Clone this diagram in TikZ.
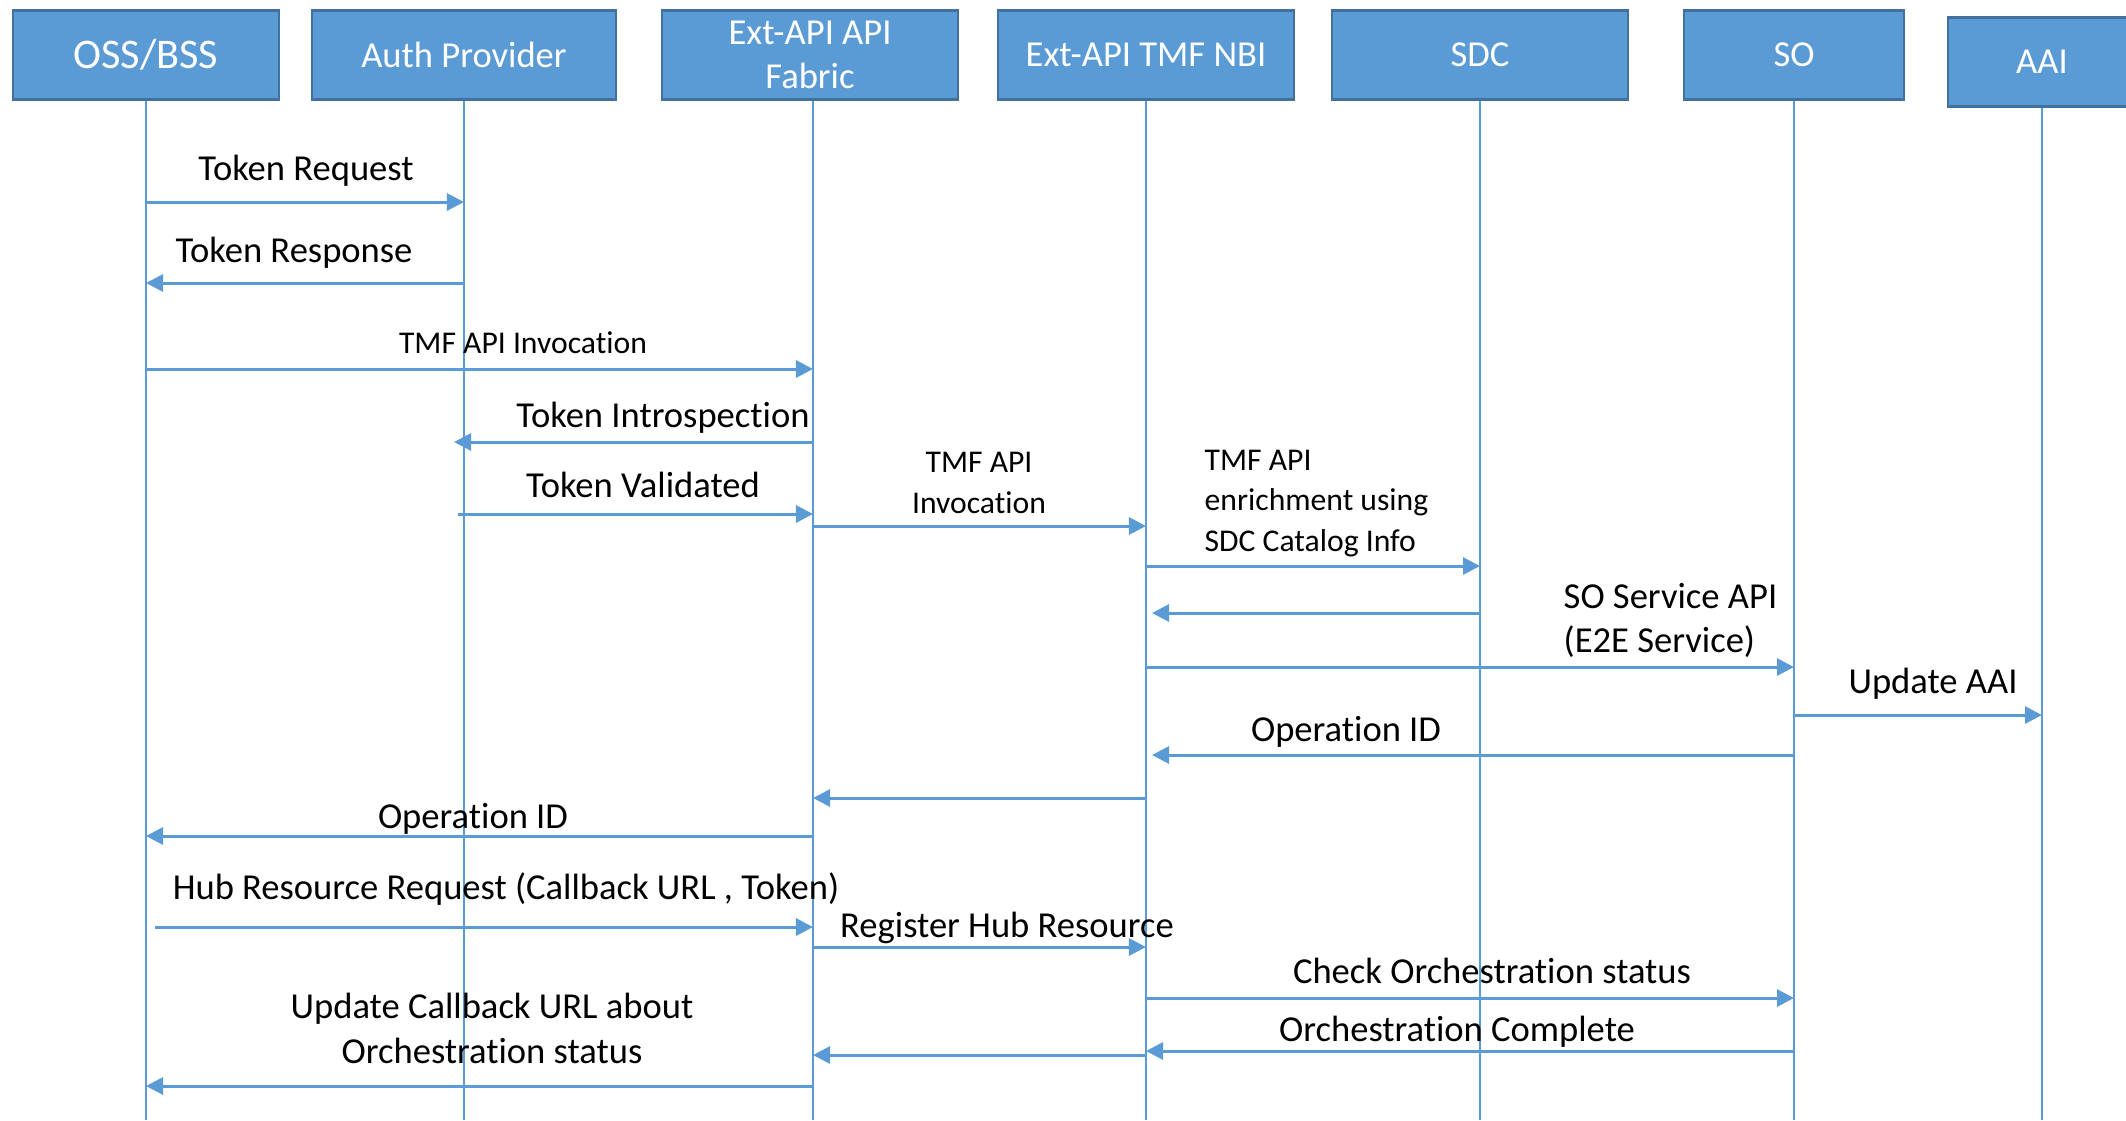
\documentclass[tikz,border=0pt]{standalone}
\usepackage{fontspec}
\setmainfont{Carlito}[RawFeature={-liga;-calt;-clig;-dlig}]
\usetikzlibrary{arrows.meta}
\definecolor{boxblue}{HTML}{5B9BD5}
\definecolor{boxedge}{HTML}{41719C}

\begin{document}
\begin{tikzpicture}[
            x=0.01cm, y=-0.01cm,
            actor/.style={rectangle, draw=boxedge, line width=0.6pt, fill=boxblue,
                text=white, minimum width=#1, minimum height=0.89cm,
                inner sep=0pt, align=center, font=\fontsize{10.4}{12.5}\selectfont},
            actor/.default=2.96cm,
            life/.style={draw=boxblue, line width=0.4pt},
            msg/.style={draw=boxblue, line width=0.85pt,
                -{Triangle[length=0.17cm, width=0.17cm]}},
            lbl/.style={anchor=base, inner sep=0pt, align=center,
                font=\fontsize{10.4}{12.5}\selectfont},
            sml/.style={anchor=base, inner sep=0pt, align=center,
                font=\fontsize{9}{11.4}\selectfont}
        ]
        \useasboundingbox (0, 0) rectangle (2126, 1120);
        \node[actor=2.65cm, font=\fontsize{12}{14}\selectfont] (oss) at (146, 55) {OSS/BSS};
        \node[actor=3.04cm] (auth) at (464, 55) {Auth Provider};
        \node[actor] (fab) at (810, 55) {Ext-API API\\Fabric};
        \node[actor] (nbi) at (1146, 55) {Ext-API TMF NBI};
        \node[actor] (sdc) at (1480, 55) {SDC};
        \node[actor=2.2cm] (so) at (1794, 55) {SO};
        \node[actor=1.88cm] (aai) at (2042, 62) {AAI};
        \draw[life] (oss.south) -- (oss |- 0, 1120);
        \draw[life] (auth.south) -- (auth |- 0, 1120);
        \draw[life] ([xshift=0.03cm]fab.south) -- ([xshift=0.03cm]fab |- 0, 1120);
        \draw[life] (nbi.south) -- (nbi |- 0, 1120);
        \draw[life] (sdc.south) -- (sdc |- 0, 1120);
        \draw[life] (so.south) -- (so |- 0, 1120);
        \draw[life] (aai.south) -- (aai |- 0, 1120);
        \coordinate (fabx) at ([xshift=0.03cm]fab.south);

        \draw[msg] (oss |- 0, 202) -- (auth |- 0, 202);
        \node[lbl] (treq) at (306, 180) {Token Request};
        \draw[msg] (auth |- 0, 283) -- (oss |- 0, 283);
        \node[lbl] (tresp) at (294, 262) {Token Response};
        \draw[msg] (oss |- 0, 369) -- (fabx |- 0, 369);
        \node[sml] (inv1) at (523, 353) {TMF API Invocation};
        \draw[msg] (fabx |- 0, 442) -- ([xshift=-0.1cm]auth |- 0, 442);
        \node[lbl] (intro) at (663, 427) {Token Introspection};
        \draw[msg] ([xshift=-0.06cm]auth |- 0, 514) -- (fabx |- 0, 514);
        \node[lbl] (valid) at (643, 497) {Token Validated};
        \draw[msg] (fabx |- 0, 526) -- (nbi |- 0, 526);
        \node[sml] (inv2) at (979, 513) {TMF API\\Invocation};
        \draw[msg] (nbi |- 0, 566) -- (sdc |- 0, 566);
        \node[sml, anchor=base west, align=left] (enrich) at (1204, 551) {TMF API\\enrichment using\\SDC Catalog Info};
        \draw[msg] (sdc |- 0, 613) -- ([xshift=0.06cm]nbi |- 0, 613);
        \draw[msg] (nbi |- 0, 667) -- (so |- 0, 667);
        \node[lbl, anchor=base west, align=left] (soapi) at (1563, 652) {SO Service API\\(E2E Service)};
        \draw[msg] (so |- 0, 715) -- (aai |- 0, 715);
        \node[lbl] (upaai) at (1933, 693) {Update AAI};
        \draw[msg] (so |- 0, 755) -- ([xshift=0.06cm]nbi |- 0, 755);
        \node[lbl] (opid1) at (1346, 741) {Operation ID};
        \draw[msg] (nbi |- 0, 798) -- (fabx |- 0, 798);
        \draw[msg] (fabx |- 0, 836) -- (oss |- 0, 836);
        \node[lbl] (opid2) at (473, 828) {Operation ID};
        \draw[msg] ([xshift=0.09cm]oss |- 0, 927) -- (fabx |- 0, 927);
        \node[lbl] (hubreq) at (506, 899) {Hub Resource Request (Callback URL , Token)};
        \draw[msg] (fabx |- 0, 947) -- (nbi |- 0, 947);
        \node[lbl] (reghub) at (1007, 937) {Register Hub Resource};
        \draw[msg] (nbi |- 0, 998) -- (so |- 0, 998);
        \node[lbl] (check) at (1492, 983) {Check Orchestration status};
        \draw[msg] (so |- 0, 1051) -- (nbi |- 0, 1051);
        \node[lbl] (done) at (1457, 1041) {Orchestration Complete};
        \draw[msg] (nbi |- 0, 1055) -- (fabx |- 0, 1055);
        \draw[msg] (fabx |- 0, 1086) -- (oss |- 0, 1086);
        \node[lbl, font=\fontsize{10.4}{12.8}\selectfont] (upcb) at (492, 1063) {Update Callback URL about\\Orchestration status};
    \end{tikzpicture}
\end{document}
